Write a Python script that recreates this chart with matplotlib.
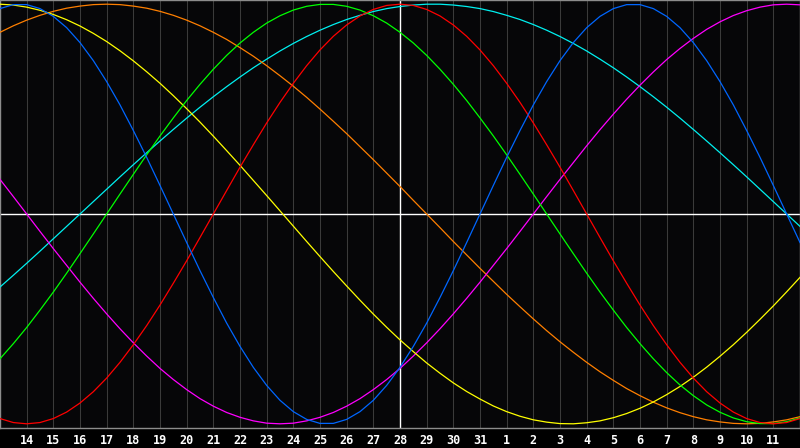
import matplotlib
matplotlib.use("Agg")
import matplotlib.pyplot as plt

# day of month at each grid column (first and last are the chart edges)
dates = [13, 14, 15, 16, 17, 18, 19, 20, 21, 22, 23, 24, 25, 26, 27, 28,
         29, 30, 31, 1, 2, 3, 4, 5, 6, 7, 8, 9, 10, 11, 12]
today_index = 15

# cycle values every half day, -1..1
red = [-0.975, -0.994, -1.0, -0.994, -0.975, -0.944, -0.901, -0.847, -0.782,
       -0.707, -0.623, -0.532, -0.434, -0.330, -0.223, -0.112, 0.0,
       0.112, 0.223, 0.330, 0.434, 0.532, 0.623, 0.707, 0.782, 0.847, 0.901,
       0.944, 0.975, 0.994, 1.0,
       0.994, 0.975, 0.944, 0.901, 0.847, 0.782, 0.707, 0.623, 0.532, 0.434,
       0.330, 0.223, 0.112, 0.0,
       -0.112, -0.223, -0.330, -0.434, -0.532, -0.623, -0.707, -0.782, -0.847,
       -0.901, -0.944, -0.975, -0.994, -1.0, -0.994, -0.975]
blue = [0.979, 0.998, 0.998, 0.979, 0.942, 0.888, 0.817, 0.731, 0.631, 0.520,
        0.398, 0.270, 0.136, 0.0,
        -0.136, -0.270, -0.398, -0.520, -0.631, -0.731, -0.817, -0.888, -0.942,
        -0.979, -0.998, -0.998, -0.979, -0.942, -0.888, -0.817, -0.731, -0.631,
        -0.520, -0.398, -0.270, -0.136, 0.0,
        0.136, 0.270, 0.398, 0.520, 0.631, 0.731, 0.817, 0.888, 0.942, 0.979,
        0.998, 0.998, 0.979, 0.942, 0.888, 0.817, 0.731, 0.631, 0.520, 0.398,
        0.270, 0.136, 0.0, -0.136]
green = [-0.690, -0.618, -0.541, -0.458, -0.372, -0.282, -0.189, -0.095, 0.0,
         0.095, 0.189, 0.282, 0.372, 0.458, 0.541, 0.618, 0.690, 0.756, 0.815,
         0.866, 0.910, 0.945, 0.972, 0.990, 0.999,
         0.999, 0.990, 0.972, 0.945, 0.910, 0.866, 0.815, 0.756, 0.690, 0.618,
         0.541, 0.458, 0.372, 0.282, 0.189, 0.095, 0.0,
         -0.095, -0.189, -0.282, -0.372, -0.458, -0.541, -0.618, -0.690,
         -0.756, -0.815, -0.866, -0.910, -0.945, -0.972, -0.990, -0.999,
         -0.999, -0.990, -0.972]
cyan = [-0.348, -0.292, -0.235, -0.177, -0.118, -0.059, 0.0,
        0.059, 0.118, 0.177, 0.235, 0.292, 0.348, 0.403, 0.457, 0.509, 0.559,
        0.607, 0.653, 0.697, 0.738, 0.777, 0.813, 0.846, 0.876, 0.903, 0.927,
        0.947, 0.965, 0.979, 0.989, 0.996, 1.0,
        1.0, 0.996, 0.989, 0.979, 0.965, 0.947, 0.927, 0.903, 0.876, 0.846,
        0.813, 0.777, 0.738, 0.697, 0.653, 0.607, 0.559, 0.509, 0.457, 0.403,
        0.348, 0.292, 0.235, 0.177, 0.118, 0.059, 0.0, -0.059]
magenta = [0.165, 0.083, 0.0, -0.083, -0.165, -0.245, -0.325, -0.402, -0.476,
           -0.547, -0.614, -0.677, -0.736, -0.789, -0.837, -0.880, -0.916,
           -0.946, -0.969, -0.986, -0.997, -1.0,
           -0.997, -0.986, -0.969, -0.946, -0.916, -0.880, -0.837, -0.789,
           -0.736, -0.677, -0.614, -0.547, -0.476, -0.402, -0.325, -0.245,
           -0.165, -0.083, 0.0,
           0.083, 0.165, 0.245, 0.325, 0.402, 0.476, 0.547, 0.614, 0.677,
           0.736, 0.789, 0.837, 0.880, 0.916, 0.946, 0.969, 0.986, 0.997, 1.0,
           0.997]
yellow = [1.0, 0.996, 0.986, 0.971, 0.951, 0.926, 0.896, 0.861, 0.822, 0.778,
          0.730, 0.678, 0.623, 0.564, 0.502, 0.438, 0.371, 0.302, 0.232, 0.160,
          0.088, 0.015,
          -0.058, -0.131, -0.203, -0.274, -0.343, -0.411, -0.477, -0.540,
          -0.600, -0.656, -0.710, -0.759, -0.805, -0.846, -0.882, -0.915,
          -0.942, -0.964, -0.981, -0.992, -0.999, -1.0,
          -0.995, -0.986, -0.971, -0.951, -0.926, -0.896, -0.861, -0.822,
          -0.778, -0.730, -0.678, -0.623, -0.564, -0.502, -0.438, -0.371,
          -0.302]
orange = [0.866, 0.897, 0.924, 0.947, 0.966, 0.981, 0.991, 0.998, 1.0, 0.998,
          0.991, 0.981, 0.966, 0.947, 0.924, 0.897, 0.866, 0.832, 0.793, 0.752,
          0.707, 0.659, 0.609, 0.556, 0.5, 0.442, 0.383, 0.321, 0.259, 0.195,
          0.131, 0.065, 0.0,
          -0.065, -0.131, -0.195, -0.259, -0.321, -0.383, -0.442, -0.5, -0.556,
          -0.609, -0.659, -0.707, -0.752, -0.793, -0.832, -0.866, -0.897,
          -0.924, -0.947, -0.966, -0.981, -0.991, -0.998, -1.0, -0.998, -0.991,
          -0.981, -0.966]

series = [
    (cyan, "#00f0f0"),
    (orange, "#ff7f00"),
    (magenta, "#ff00ff"),
    (yellow, "#ffff00"),
    (green, "#00ff00"),
    (red, "#ff0000"),
    (blue, "#0066ff"),
]

# half-day sample positions along the day axis
t = [i / 2 for i in range(len(red))]
cols = list(range(len(dates)))

fig = plt.figure(figsize=(8, 4.48), dpi=100, facecolor="black")
ax = fig.add_axes([0, 20 / 448, 1, 428 / 448])
ax.set_facecolor("#060608")

for i in cols[1:-1]:
    ax.axvline(i, color="#3a3a3a", lw=0.75, zorder=1)
ax.axhline(0, color="white", lw=1.0, zorder=2)
ax.axvline(today_index, color="white", lw=1.0, zorder=2)

for vals, col in series:
    ax.plot(t, vals, color=col, lw=0.9, zorder=3)

ax.set_xlim(0, len(dates) - 1)
ax.set_ylim(-1.02, 1.02)
ax.set_xticks(cols[1:-1])
ax.set_xticklabels([str(d) for d in dates[1:-1]])
ax.set_yticks([])
ax.tick_params(axis="x", length=0, pad=4, colors="white", labelsize=8.5)
for lab in ax.get_xticklabels():
    lab.set_fontweight("bold")
    lab.set_family("DejaVu Sans Mono")
for s in ax.spines.values():
    s.set_color("#8c8c8c")
    s.set_linewidth(1.0)

fig.savefig("out.png", dpi=100, facecolor="black")
